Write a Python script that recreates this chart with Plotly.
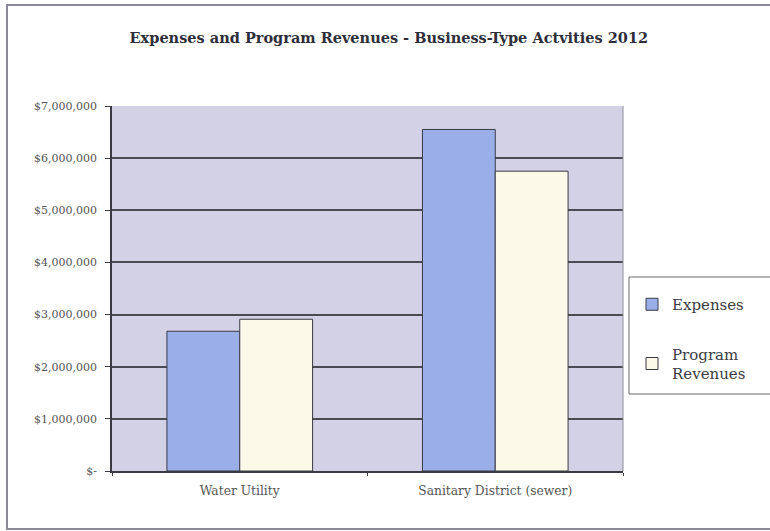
import plotly.graph_objects as go

# Business-type activities, fiscal 2012
categories = ["Water Utility", "Sanitary District (sewer)"]
expenses = [2680000, 6550000]
program_revenues = [2910000, 5750000]
tick_values = [0, 1000000, 2000000, 3000000, 4000000, 5000000, 6000000, 7000000]
tick_labels = ["$-", "$1,000,000", "$2,000,000", "$3,000,000", "$4,000,000",
               "$5,000,000", "$6,000,000", "$7,000,000"]

W, H = 770, 531
L, R, T, B = 112, 147, 106, 60
pw, ph = W - L - R, H - T - B

def px_x(x):
    return (x - L) / pw

def px_y(y):
    return (H - B - y) / ph

serif = "DejaVu Serif"
outline = dict(color="#3a3a44", width=1)

fig = go.Figure()
fig.add_trace(go.Bar(
    name="Expenses", x=categories, y=expenses,
    marker=dict(color="#9aaee8", line=outline), legendgroup="a",
))
fig.add_trace(go.Bar(
    name="Program<br>Revenues", x=categories, y=program_revenues,
    marker=dict(color="#fbf9e8", line=outline), legendgroup="b",
))

fig.update_layout(
    width=W, height=H,
    margin=dict(l=L, r=R, t=T, b=B),
    paper_bgcolor="white",
    plot_bgcolor="#d3d1e5",
    barmode="group",
    bargap=0.43,
    bargroupgap=0,
    font=dict(family=serif, color="#444444"),
    title=dict(
        text="<b>Expenses and Program Revenues - Business-Type Actvities 2012</b>",
        x=0.505, xanchor="center", y=1 - 38 / H, yanchor="middle",
        font=dict(family=serif, size=14.5, color="#2e2e3a"),
    ),
    showlegend=True,
    legend=dict(
        x=px_x(632), xanchor="left", y=px_y(288), yanchor="top",
        borderwidth=0, bgcolor="rgba(0,0,0,0)",
        font=dict(family=serif, size=15, color="#3a3a44"),
        itemwidth=30, tracegroupgap=27, traceorder="grouped",
    ),
    xaxis=dict(
        showline=True, linecolor="#3a3a44", linewidth=1.5,
        ticks="outside", ticklen=3, tickcolor="#3a3a44", tickson="boundaries",
        tickfont=dict(family=serif, size=12.3, color="#555555"),
        ticklabelstandoff=7,
        showgrid=False,
    ),
    yaxis=dict(
        range=[0, 7000000],
        tickvals=tick_values, ticktext=tick_labels,
        showline=True, linecolor="#3a3a44", linewidth=1.5,
        ticks="outside", ticklen=5, tickcolor="#3a3a44",
        tickfont=dict(family=serif, size=11, color="#555555"),
        ticklabelstandoff=6,
        showgrid=True, gridcolor="#4a4a55", gridwidth=1.5,
        zeroline=False,
    ),
    shapes=[
        # outer chart frame
        dict(type="rect", xref="paper", yref="paper",
             x0=px_x(7), x1=px_x(790), y0=px_y(529), y1=px_y(5),
             line=dict(color="#8a8a9a", width=2), layer="below"),
        # legend frame
        dict(type="rect", xref="paper", yref="paper",
             x0=px_x(629), x1=px_x(785), y0=px_y(394), y1=px_y(277),
             line=dict(color="#666670", width=1), fillcolor="white",
             layer="below"),
        # right edge of the plot area
        dict(type="line", xref="paper", yref="paper",
             x0=1, x1=1, y0=0, y1=1,
             line=dict(color="#8c8c9c", width=1)),
    ],
)

fig.write_html("out.html")
